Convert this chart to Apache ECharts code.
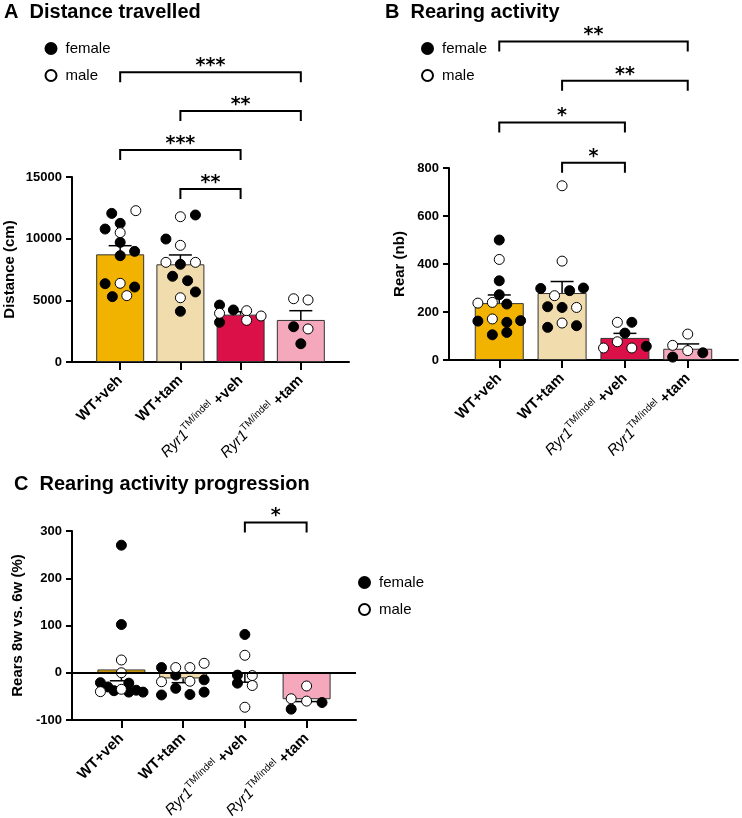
<!DOCTYPE html>
<html>
<head>
<meta charset="utf-8">
<script src="https://cdn.jsdelivr.net/npm/echarts@6/dist/echarts.min.js"></script>
<style>
  html, body { margin: 0; padding: 0; background: #fff; }
  #holder { width: 742px; height: 818px; }
</style>
</head>
<body>
<div id="holder"></div>
<script>
// groups
var gene = ['WT', 'WT', 'Ryr1', 'Ryr1']
var treat = ['+veh', '+tam', '+veh', '+tam']
var supText = 'TM/indel'
var barColors = ['#f2b300', '#f0dcac', '#dc1048', '#f5a8bc']

// A - distance travelled (cm)
var distMean = [8730, 7920, 3840, 3410]
var distSem = [9430, 8680, 4080, 4160]   // whisker end
var distFemale = [[-0.14, 12050], [-0.25, 10780], [0, 11240], [0, 9700], [0, 8620], [0.24, 8970], [-0.25, 6350], [0.24, 6080], [-0.13, 5300],
  [1.25, 11920], [0.76, 9970], [1, 7920], [0.87, 6950], [1.12, 6590], [1.25, 5680], [1, 4110],
  [1.65, 4620], [1.88, 4220], [1.65, 3220],
  [2.88, 2860], [3, 1480]]
var distMale = [[0.26, 12270], [0, 10490], [0, 6380], [0.11, 5380],
  [1, 11780], [1, 9460], [0.76, 8080], [1.25, 8080], [1, 5210],
  [2.1, 4160], [1.65, 3950], [2.34, 3730], [2.1, 3380],
  [2.88, 5130], [3.12, 5030], [3.12, 2680]]
var distSig = [[0, 3, 23500, '***'], [1, 3, 20350, '**'], [0, 2, 17190, '***'], [1, 2, 14030, '**']]

// B - rearing (nb)
var rearMean = [237, 279, 92, 47]
var rearSem = [271, 327, 111, 67]
var rearFemale = [[0, 500], [0, 330], [0, 272], [0.12, 233], [-0.34, 162], [0.12, 157], [0.34, 164], [0.12, 115], [-0.11, 105],
  [0.66, 298], [1.12, 289], [1.34, 300], [0.77, 222], [1, 219], [0.77, 136], [1.23, 143],
  [2.11, 157], [2, 112], [2.34, 57],
  [3.24, 30], [2.76, 12]]
var rearMale = [[0, 419], [-0.34, 237], [-0.11, 240], [-0.11, 171],
  [1, 726], [1, 412], [0.88, 268], [1.23, 219], [1, 154],
  [1.88, 157], [1.88, 76], [1.66, 50], [2.11, 50],
  [3, 108], [2.76, 61], [3, 39]]
var rearSig = [[0, 3, 1327, '**'], [1, 3, 1164, '**'], [0, 2, 990, '*'], [1, 2, 822, '*']]

// C - rears 8w vs 6w (%)
var progMean = [7, -12, -2, -56]
var progSem = [-17, -21, -20, -61]
var progFemale = [[0, 270], [0, 102], [-0.34, -21], [-0.22, -30], [-0.12, -38], [0.12, -22], [0.12, -41], [0.24, -37], [0.35, -41],
  [0.65, 11], [0.88, -5], [1.34, -15], [0.88, -33], [0.65, -47], [1.11, -46], [1.34, -41],
  [2, 81], [1.88, -5], [1.88, -22],
  [3.25, -63], [2.75, -77]]
var progMale = [[0, 27], [0, 0], [0, -35], [-0.34, -40],
  [0.88, 11], [1.11, 11], [1.34, 20], [0.65, -19], [1.11, -18],
  [2, 37], [2.12, -6], [2.12, -27], [2, -73],
  [3, -28], [2.75, -55], [3, -60]]
var progSig = [[2, 3, 318, '*']]

var FONT = 'Liberation Sans, Arial, sans-serif'

function xLabel(v) {
  var i = Math.round(v)
  if (gene[i] === 'WT') return '{b|' + gene[i] + treat[i] + '}'
  return '{i|' + gene[i] + '}{s|' + supText + '}{b| ' + treat[i] + '}'
}

function makeX(gi) {
  return {
    gridIndex: gi, type: 'value', min: -0.8, max: 3.8,
    splitLine: {show: false},
    axisLine: {show: true, onZero: false, lineStyle: {color: '#000', width: 2}},
    axisTick: {show: true, customValues: [0, 1, 2, 3], length: 8, lineStyle: {color: '#000', width: 2}},
    axisLabel: {
      customValues: [0, 1, 2, 3], rotate: 45, margin: 16, formatter: xLabel,
      rich: {
        b: {fontWeight: 'bold', fontSize: 15, fontFamily: FONT, color: '#000', lineHeight: 20},
        i: {fontStyle: 'italic', fontSize: 15, fontFamily: FONT, color: '#000', lineHeight: 20},
        s: {fontSize: 10, fontFamily: FONT, color: '#000', lineHeight: 13, verticalAlign: 'top'}
      }
    }
  }
}

function makeY(gi, min, max, step, name, gap) {
  return {
    gridIndex: gi, type: 'value', min: min, max: max, interval: step,
    name: name, nameLocation: 'middle', nameGap: gap, nameRotate: 90,
    nameTextStyle: {fontSize: 15, fontWeight: 'bold', color: '#000', fontFamily: FONT},
    splitLine: {show: false},
    axisLine: {show: true, onZero: false, lineStyle: {color: '#000', width: 2}},
    axisTick: {show: true, length: 6, lineStyle: {color: '#000', width: 2}},
    axisLabel: {margin: 10, fontSize: 13, fontWeight: 'bold', color: '#000', fontFamily: FONT,
      formatter: function (v) { return String(v) }}
  }
}

function barSeries(gi, means) {
  return {
    type: 'bar', xAxisIndex: gi, yAxisIndex: gi, barWidth: gi === 1 ? 49 : 48, z: 2,
    itemStyle: {borderColor: '#333', borderWidth: 1},
    data: means.map(function (m, i) {
      return {value: [i, m], itemStyle: {color: barColors[i]}}
    })
  }
}

function errSeries(gi, means, ends) {
  return {
    type: 'custom', xAxisIndex: gi, yAxisIndex: gi, z: 3, silent: true,
    data: means.map(function (m, i) { return [i, m, ends[i]] }),
    encode: {x: 0, y: [1, 2]},
    renderItem: function (params, api) {
      var p0 = api.coord([api.value(0), api.value(1)])
      var p1 = api.coord([api.value(0), api.value(2)])
      var st = {stroke: '#000', lineWidth: 1.5}
      return {type: 'group', children: [
        {type: 'line', shape: {x1: p0[0], y1: p0[1], x2: p1[0], y2: p1[1]}, style: st},
        {type: 'line', shape: {x1: p1[0] - 11.5, y1: p1[1], x2: p1[0] + 11.5, y2: p1[1]}, style: st}
      ]}
    }
  }
}

function sigSeries(gi, list) {
  return {
    type: 'custom', xAxisIndex: gi, yAxisIndex: gi, z: 5, silent: true, clip: false,
    data: list.map(function (b) { return [b[0], b[1], b[2]] }),
    encode: {x: [0, 1], y: 2},
    renderItem: function (params, api) {
      var b = list[params.dataIndex]
      var a = api.coord([b[0], b[2]])
      var c = api.coord([b[1], b[2]])
      return {type: 'group', children: [
        {type: 'polyline', shape: {points: [[a[0], a[1] + 10], [a[0], a[1]], [c[0], c[1]], [c[0], c[1] + 10]]},
          style: {stroke: '#000', lineWidth: 2, fill: null}},
        {type: 'text', style: {text: b[3], x: (a[0] + c[0]) / 2, y: a[1] - 6, align: 'center', verticalAlign: 'middle',
          fontSize: 19, fontWeight: 'bold', fontFamily: 'DejaVu Sans', fill: '#000'}}
      ]}
    }
  }
}

function dotSeries(gi, name, pts) {
  var female = name === 'female'
  return {
    type: 'scatter', name: name, xAxisIndex: gi, yAxisIndex: gi, z: 4, symbol: 'circle', symbolSize: 10,
    itemStyle: female ? {color: '#000', borderColor: '#000', borderWidth: 1, opacity: 1}
                      : {color: '#fff', borderColor: '#000', borderWidth: 1, opacity: 1},
    data: pts
  }
}

function makeLegend(left, top) {
  return {
    left: left, top: top, orient: 'vertical', padding: 0, itemWidth: 11, itemHeight: 11, itemGap: 12,
    icon: 'circle', selectedMode: false, data: ['female', 'male'],
    textStyle: {fontSize: 15, color: '#000', fontFamily: FONT, padding: [0, 0, 0, 4]}
  }
}

var titleStyle = {fontSize: 20, fontWeight: 'bold', color: '#000', fontFamily: FONT}

var chart = echarts.init(document.getElementById('holder'))

var zeroLine = {
  silent: true, symbol: 'none', label: {show: false},
  lineStyle: {color: '#000', width: 2, type: 'solid'},
  data: [{yAxis: 0}]
}

var bC = barSeries(2, progMean)
bC.markLine = zeroLine

var option = {
  animation: false,
  backgroundColor: '#fff',
  title: [
    {text: 'A  Distance travelled', left: 4, top: 2, padding: 0, textStyle: titleStyle},
    {text: 'B  Rearing activity', left: 385, top: 2, padding: 0, textStyle: titleStyle},
    {text: 'C  Rearing activity progression', left: 14, top: 474, padding: 0, textStyle: titleStyle}
  ],
  legend: [makeLegend(44.5, 41), makeLegend(421, 41), makeLegend(358, 575)],
  grid: [
    {left: 72, top: 177, width: 277, height: 185, outerBoundsMode: 'none'},
    {left: 449, top: 168, width: 289, height: 192, outerBoundsMode: 'none'},
    {left: 72, top: 531, width: 284, height: 189, outerBoundsMode: 'none'}
  ],
  xAxis: [makeX(0), makeX(1), makeX(2)],
  yAxis: [
    makeY(0, 0, 15000, 5000, 'Distance (cm)', 55),
    makeY(1, 0, 800, 200, 'Rear (nb)', 42),
    makeY(2, -100, 300, 100, 'Rears 8w vs. 6w (%)', 47)
  ],
  series: [
    barSeries(0, distMean), errSeries(0, distMean, distSem),
    dotSeries(0, 'female', distFemale), dotSeries(0, 'male', distMale), sigSeries(0, distSig),
    barSeries(1, rearMean), errSeries(1, rearMean, rearSem),
    dotSeries(1, 'female', rearFemale), dotSeries(1, 'male', rearMale), sigSeries(1, rearSig),
    bC, errSeries(2, progMean, progSem),
    dotSeries(2, 'female', progFemale), dotSeries(2, 'male', progMale), sigSeries(2, progSig)
  ]
}

chart.setOption(option)
</script>
</body>
</html>
